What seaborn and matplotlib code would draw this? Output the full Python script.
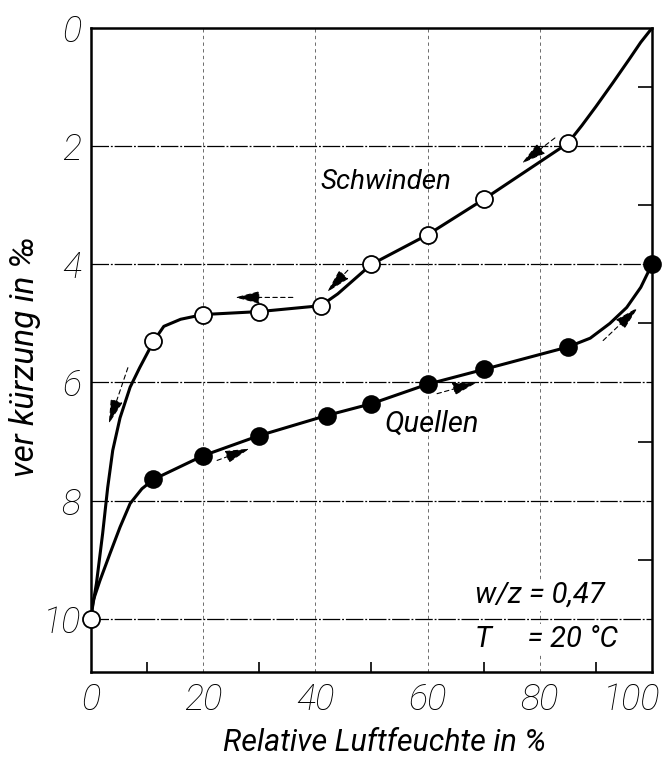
import numpy as np
import pandas as pd
import seaborn as sns
from matplotlib import pyplot as plt
from matplotlib.transforms import ScaledTranslation

# measured points (relative humidity in %, shortening in per mille)
schwinden_rh = [0, 11, 20, 30, 41, 50, 60, 70, 85]
schwinden_val = [10.0, 5.3, 4.85, 4.8, 4.7, 4.0, 3.5, 2.9, 1.95]
quellen_rh = [11, 20, 30, 42, 50, 60, 70, 85, 100]
quellen_val = [7.64, 7.24, 6.9, 6.56, 6.36, 6.03, 5.78, 5.4, 4.0]

# curve traces
schwinden_curve_rh = [100, 98, 96, 93, 90, 87.5, 85, 70, 60, 50, 47, 44, 41, 30, 20, 16, 13, 11.2,
                      8.7, 7.0, 5.2, 3.9, 3.0, 2.1, 1.0, 0.2, 0]
schwinden_curve_val = [0, 0.24, 0.52, 0.93, 1.33, 1.65, 1.95, 2.9, 3.5, 4.0, 4.25, 4.5, 4.7, 4.8, 4.85,
                       4.93, 5.05, 5.3, 5.75, 6.08, 6.6, 7.15, 7.78, 8.56, 9.4, 9.86, 10.0]
quellen_curve_rh = [0, 0.4, 1.6, 3.4, 5.2, 7.0, 9.1, 11.2, 20, 30, 42, 50, 60, 70, 85, 89, 92.5,
                    95.5, 98, 100]
quellen_curve_val = [10.0, 9.7, 9.36, 8.9, 8.45, 8.05, 7.8, 7.64, 7.24, 6.9, 6.56, 6.36, 6.03, 5.78,
                     5.4, 5.25, 5.0, 4.73, 4.39, 4.0]

# direction arrows: (tail x, tail y, tip x, tip y)
arrows = [(82.7, 1.86, 76.8, 2.29), (45.8, 4.10, 42.1, 4.47), (36.0, 4.56, 25.7, 4.56),
          (6.6, 5.75, 3.2, 6.7), (22.5, 7.32, 28.3, 7.12), (61.7, 6.19, 68.8, 6.0),
          (91.3, 5.29, 97.5, 4.73)]

sns.set_style("white")
font = ['Liberation Sans Narrow', 'DejaVu Sans Condensed', 'Roboto', 'DejaVu Sans']
plt.rcParams['font.family'] = font
plt.rcParams['font.style'] = 'italic'
plt.rcParams['text.color'] = 'black'
plt.rcParams['xtick.color'] = 'black'
plt.rcParams['ytick.color'] = 'black'
plt.rcParams['axes.labelcolor'] = 'black'

fig = plt.figure(figsize=(6.68, 7.6), dpi=100)
ax = fig.add_axes([0.136, 0.116, 0.84, 0.847])

# grid
for y in [2, 4, 6, 8, 10]:
    ax.axhline(y, color='black', lw=0.9, dashes=(14, 1.5, 1.5, 1.5), zorder=1)
for x in [20, 40, 60, 80]:
    ax.axvline(x, color='#555555', lw=0.6, dashes=(4, 4), zorder=1)

df_s = pd.DataFrame({'rh': schwinden_curve_rh, 'val': schwinden_curve_val})
df_q = pd.DataFrame({'rh': quellen_curve_rh, 'val': quellen_curve_val})
sns.lineplot(data=df_s, x='rh', y='val', sort=False, color='black', lw=2.2, ax=ax, zorder=3)
sns.lineplot(data=df_q, x='rh', y='val', sort=False, color='black', lw=2.2, ax=ax, zorder=3)

sns.scatterplot(x=quellen_rh, y=quellen_val, color='black', s=150, edgecolor='black',
                linewidth=1.2, ax=ax, zorder=4, clip_on=False)
sns.scatterplot(x=schwinden_rh, y=schwinden_val, color='white', s=150, edgecolor='black',
                linewidth=1.3, ax=ax, zorder=5, clip_on=False)

for x0, y0, x1, y1 in arrows:
    ax.annotate('', xy=(x1, y1), xytext=(x0, y0),
                arrowprops=dict(arrowstyle='-|>,head_length=1.1,head_width=0.28',
                                mutation_scale=14, shrinkA=0, shrinkB=0,
                                color='black', lw=0.8, linestyle=(0, (4, 3))), zorder=4)

ax.text(41, 2.6, 'Schwinden', fontsize=20, ha='left', va='center')
ax.text(52.4, 6.7, 'Quellen', fontsize=21, ha='left', va='center')
ax.text(68.5, 9.6, 'w/z = 0,47', fontsize=21, ha='left', va='center',
        bbox=dict(facecolor='white', edgecolor='none', pad=1))
ax.text(68.5, 10.35, 'T     = 20 °C', fontsize=21, ha='left', va='center',
        bbox=dict(facecolor='white', edgecolor='none', pad=1))

ax.set_xlim(0, 100)
ax.set_ylim(10.9, 0)
ax.set_xticks([0, 20, 40, 60, 80, 100])
ax.set_xticks([10, 30, 50, 70, 90], minor=True)
ax.set_yticks([0, 2, 4, 6, 8, 10])
ax.tick_params(axis='both', which='major', labelsize=26, length=0, pad=7)
ax.tick_params(axis='x', which='minor', direction='in', length=7, width=1.2, bottom=True)
ax.set_yticks([1, 3, 5, 7, 9], minor=True)
ax.tick_params(axis='y', which='minor', direction='in', length=10, width=1.2, right=True, left=False,
               labelleft=False)
for lab in ax.get_xticklabels() + ax.get_yticklabels():
    lab.set_fontweight('light')

# keep the "100" label inside the figure
last = ax.get_xticklabels()[-1]
last.set_transform(last.get_transform() + ScaledTranslation(-0.2, 0, fig.dpi_scale_trans))

for s in ax.spines.values():
    s.set_color('black')
    s.set_linewidth(1.8)

ax.set_xlabel('Relative Luftfeuchte in %', fontsize=22)
ax.set_ylabel('ver kürzung in ‰', fontsize=24)
ax.xaxis.set_label_coords(0.524, -0.088)
ax.yaxis.set_label_coords(-0.088, 0.49)

fig.savefig('out.png', dpi=100)
